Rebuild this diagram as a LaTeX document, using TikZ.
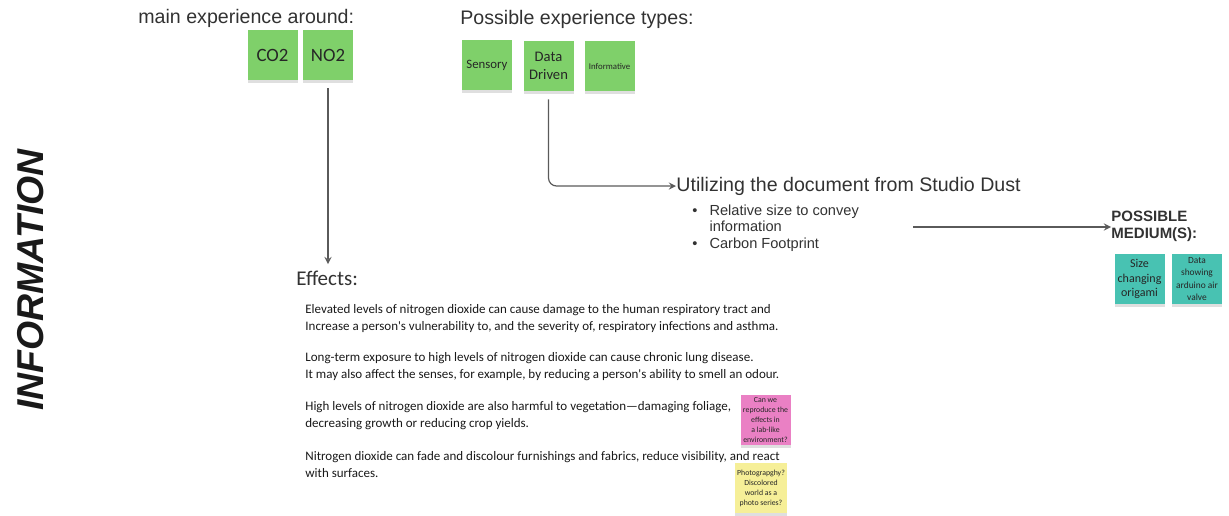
\documentclass[tikz,border=0pt]{standalone}
\usepackage{fontspec}
\setmainfont{Liberation Sans}
\newfontfamily\notefont{Carlito}
\usepgflibrary{arrows}
\usetikzlibrary{shadows}
\usetikzlibrary{calc}

\definecolor{stickygreen}{RGB}{127,208,106}
\definecolor{stickyteal}{RGB}{72,194,178}
\definecolor{stickypink}{RGB}{234,128,196}
\definecolor{stickyyellow}{RGB}{246,239,152}
\definecolor{linegray}{RGB}{90,90,90}
\definecolor{textgray}{RGB}{50,50,50}

\begin{document}
\begin{tikzpicture}[%
%scale=2,
x=0.5pt, y=-0.5pt,
>=stealth,
note/.style={minimum size=25pt, inner sep=1pt, align=center, text=black!85,
  drop shadow={shadow xshift=0pt, shadow yshift=-1.6pt, opacity=.25}},
gnote/.style={note, fill=stickygreen},
tnote/.style={note, fill=stickyteal},
pnote/.style={note, fill=stickypink},
ynote/.style={note, fill=stickyyellow},
head/.style={font=\fontsize{9.8}{11}\selectfont, text=textgray, inner sep=0pt},
body/.style={font=\notefont\fontsize{6.5}{8.5}\selectfont, text=black!90, inner sep=0pt, align=left, anchor=base west},
conn/.style={->, draw=linegray, line width=.6pt},
]

\useasboundingbox (0,0) rectangle (1229,515);

\node[rotate=90, inner sep=0pt, text=black!90, font=\bfseries\itshape\fontsize{18.7}{20}\selectfont](info) at (31,280){INFORMATION};

% experience
\node[head, anchor=base west](main) at (138,23){main experience around:};
\node[gnote, font=\notefont\fontsize{9.4}{10}\selectfont](co2) at (272.5,55){CO2};
\node[gnote, font=\notefont\fontsize{9.4}{10}\selectfont](no2) at (328,55){NO2};

\node[head, anchor=base west](types) at (460,24){Possible experience types:};
\node[gnote, font=\notefont\fontsize{6.4}{7.5}\selectfont](sens) at (487,65){Sensory};
\node[gnote, font=\notefont\fontsize{7.3}{9}\selectfont](data) at (548.5,66){Data\\Driven};
\node[gnote, font=\notefont\fontsize{4.4}{5}\selectfont](inf) at (609.5,66){Informative};

% studio dust
\node[head, anchor=west](util) at (676,186){Utilizing the document from Studio Dust};
\node[inner sep=0pt, anchor=north west, text=textgray, font=\fontsize{7.3}{8.3}\selectfont](list) at (692,203){%
\begin{tabular}{@{}l@{\hspace{6pt}}l@{}}
\textbullet & Relative size to convey\\
 & information\\
\textbullet & Carbon Footprint
\end{tabular}};
\draw[conn, rounded corners=4] ([yshift=-4pt]data.south) |- (util.west);

% medium
\node[inner sep=0pt, anchor=north west, align=left, text=textgray, font=\bfseries\fontsize{7.5}{8.5}\selectfont](medium) at (1111,211){POSSIBLE\\MEDIUM(S):};
\coordinate (medstart) at (913,227);
\draw[conn] (medstart)--(medstart-|medium.west);
\node[tnote, font=\notefont\fontsize{6}{7.3}\selectfont](origami) at (1139.5,279){Size\\changing\\origami};
\node[tnote, font=\notefont\fontsize{4.7}{6.2}\selectfont](valve) at (1197,279){Data\\showing\\arduino air\\valve};

% effects
\node[inner sep=0pt, anchor=base west, text=textgray, font=\notefont\fontsize{10.5}{12}\selectfont](effects) at (296,285){Effects:};
\draw[conn, shorten >=3pt] ([yshift=-4pt]no2.south)--(no2.south|-effects.north);

\node[body](eff1) at (305,330){Elevated levels of nitrogen dioxide can cause damage to the human respiratory tract and\\Increase a person's vulnerability to, and the severity of, respiratory infections and asthma.};
\node[body](eff2) at (305,378){Long-term exposure to high levels of nitrogen dioxide can cause chronic lung disease.\\It may also affect the senses, for example, by reducing a person's ability to smell an odour.};
\node[body](eff3) at (305,427){High levels of nitrogen dioxide are also harmful to vegetation\textemdash damaging foliage,\\decreasing growth or reducing crop yields.};
\node[body](eff4) at (305,477){Nitrogen dioxide can fade and discolour furnishings and fabrics, reduce visibility, and react\\with surfaces.};

\node[pnote, font=\notefont\fontsize{3.9}{5}\selectfont](lab) at (765.5,420){Can we\\reproduce the\\effects in\\a lab-like\\environment?};
\node[ynote, font=\notefont\fontsize{3.9}{5}\selectfont](photo) at (761,488){Photograpghy?\\Discolored\\world as a\\photo series?};

\end{tikzpicture}
\end{document}
